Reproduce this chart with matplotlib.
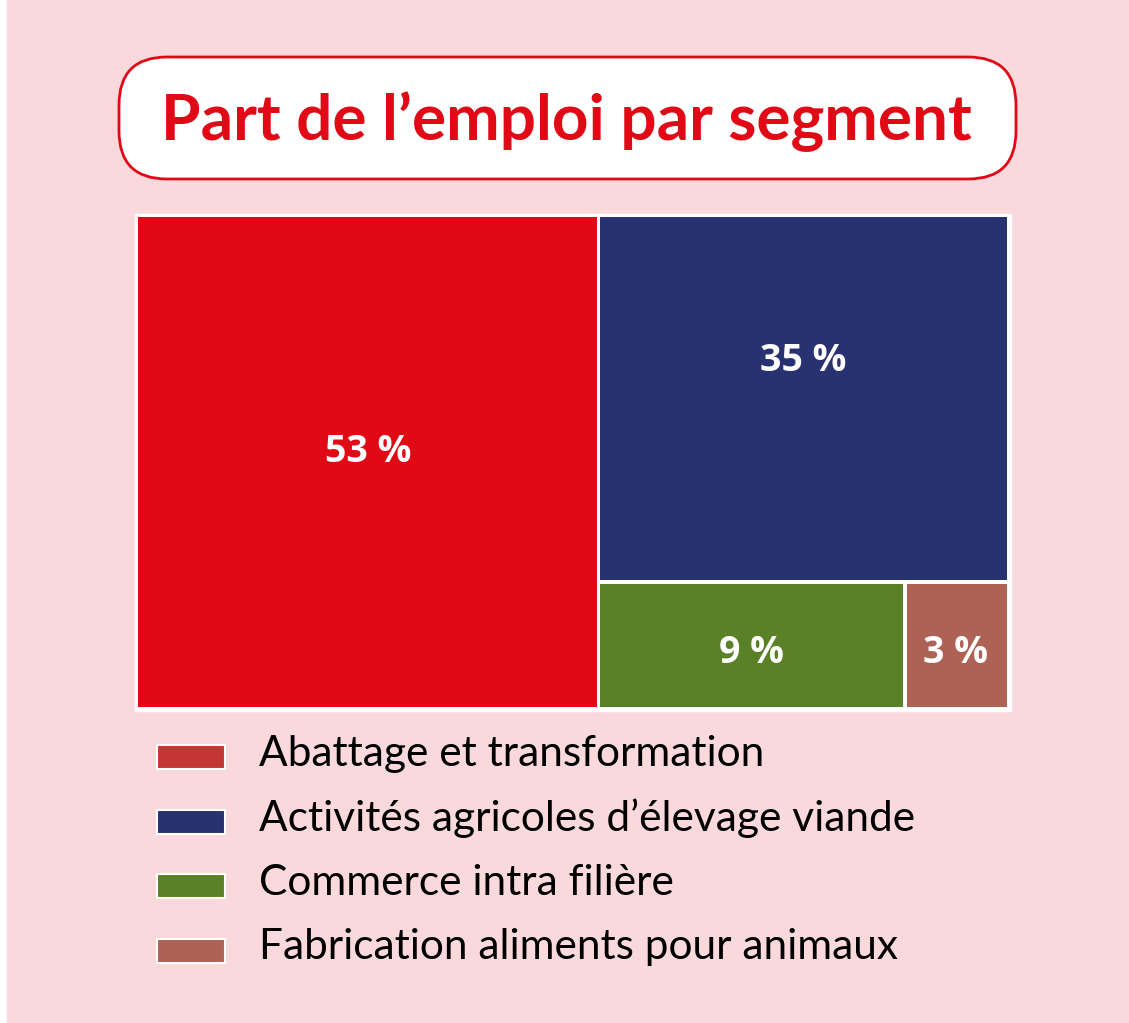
import numpy as np
import matplotlib.pyplot as plt
from matplotlib.patches import Rectangle, FancyBboxPatch

# Data
segments = ['Abattage et transformation', "Activités agricoles d’élevage viande",
            'Commerce intra filière', 'Fabrication aliments pour animaux']
shares = [53, 35, 9, 3]
colors = ['#E10916', '#283271', '#5A8127', '#AD6255']
legend_colors = ['#C43633', '#283271', '#5A8127', '#AD6255']
title = 'Part de l’emploi par segment'

W, H = 1129, 1023
fig = plt.figure(figsize=(W / 100, H / 100), dpi=100, facecolor='white')
ax = fig.add_axes([0, 0, 1, 1])
ax.set_xlim(0, W)
ax.set_ylim(H, 0)
ax.axis('off')

# pink background
ax.add_patch(Rectangle((7, 0), W - 7, H, color='#F9D9DB', zorder=0))

# title box
ax.add_patch(FancyBboxPatch((119, 57), 897, 122, boxstyle='round,pad=0,rounding_size=48',
                            facecolor='white', edgecolor='#E10916', lw=2, zorder=1))
ax.text(566, 122, title, color='#E10916', fontsize=46, fontweight='bold',
        family='Lato', ha='center', va='center', zorder=2)

# treemap layout (left column = first segment, right column = the rest)
x0, y0, x1, y1 = 138, 217, 1007, 707
gap = 3.5
ax.add_patch(Rectangle((x0 - gap, y0 - gap), x1 - x0 + 2 * gap, y1 - y0 + 2 * gap,
                       color='white', zorder=1))
total = float(sum(shares))
xs = x0 + (x1 - x0) * shares[0] / total
rest = sum(shares[1:])
ys = y0 + (y1 - y0) * shares[1] / rest
xb = xs + (x1 - xs) * shares[2] / (shares[2] + shares[3])
rects = [(x0, y0, xs, y1), (xs, y0, x1, ys), (xs, ys, xb, y1), (xb, ys, x1, y1)]
label_fy = [0.48, 0.395, 0.57, 0.57]
for (a, b, c, d), s, col, fy in zip(rects, shares, colors, label_fy):
    ax.add_patch(Rectangle((a + gap / 2 if a > x0 else a, b + gap / 2 if b > y0 else b),
                           (c - a) - (gap / 2 if a > x0 else 0) - (gap / 2 if c < x1 else 0),
                           (d - b) - (gap / 2 if b > y0 else 0) - (gap / 2 if d < y1 else 0),
                           facecolor=col, edgecolor='none', zorder=2))
    ax.text((a + c) / 2, b + (d - b) * fy, f'{s} %', color='white', fontsize=27,
            fontweight='bold', family='Open Sans', ha='center', va='center', zorder=3)

# legend
for i, (lab, col) in enumerate(zip(segments, legend_colors)):
    yc = 757 + i * 64.5
    ax.add_patch(Rectangle((157, yc - 12), 68, 24, facecolor=col, edgecolor='white',
                           lw=1.5, zorder=2))
    ax.text(259, yc - 3, lab, fontsize=30.5, family='Lato', color='black',
            ha='left', va='center', zorder=2)

fig.savefig('out.png', dpi=100, facecolor='white')
